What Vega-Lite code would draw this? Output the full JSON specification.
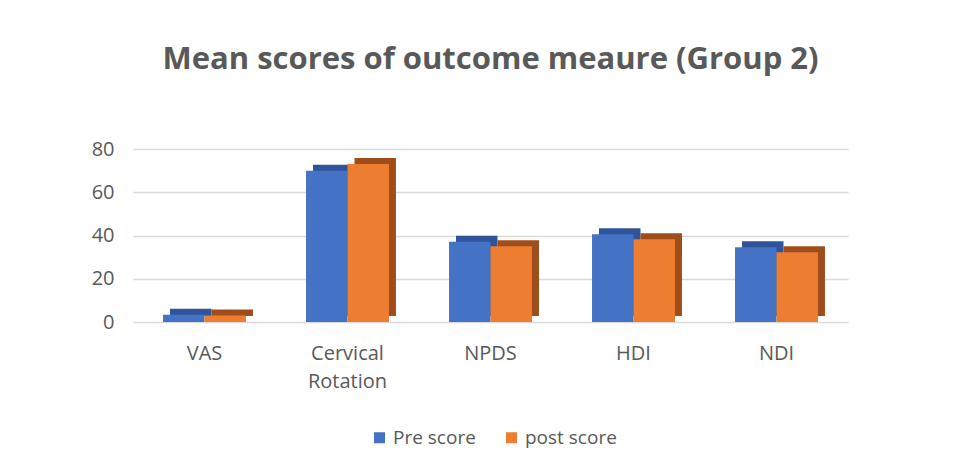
{
  "$schema": "https://vega.github.io/schema/vega-lite/v6.json",
  "width": 715,
  "height": 173,
  "autosize": "none",
  "padding": {"left": 133, "top": 149, "right": 112, "bottom": 148},
  "background": "white",
  "title": {
    "text": "Mean scores of outcome meaure (Group 2)",
    "font": "Open Sans",
    "fontSize": 31,
    "fontWeight": "bold",
    "color": "#595959",
    "anchor": "middle",
    "offset": 63
  },
  "data": {
    "values": [
      {"measure": "VAS", "series": "Pre score", "value": 3.4},
      {"measure": "VAS", "series": "post score", "value": 3.0},
      {"measure": "Cervical Rotation", "series": "Pre score", "value": 70.0},
      {"measure": "Cervical Rotation", "series": "post score", "value": 73.1},
      {"measure": "NPDS", "series": "Pre score", "value": 37.1},
      {"measure": "NPDS", "series": "post score", "value": 35.0},
      {"measure": "HDI", "series": "Pre score", "value": 40.6},
      {"measure": "HDI", "series": "post score", "value": 38.3},
      {"measure": "NDI", "series": "Pre score", "value": 34.6},
      {"measure": "NDI", "series": "post score", "value": 32.3}
    ]
  },
  "encoding": {
    "x": {
      "field": "measure",
      "type": "nominal",
      "sort": ["VAS", "Cervical Rotation", "NPDS", "HDI", "NDI"],
      "scale": {"paddingInner": 0.42, "paddingOuter": 0.21},
      "axis": {
        "title": null,
        "domain": false,
        "ticks": false,
        "labelAngle": 0,
        "labelPadding": 21,
        "labelFont": "Open Sans",
        "labelFontSize": 20,
        "labelColor": "#595959",
        "labelLineHeight": 28,
        "labelExpr": "datum.label == 'Cervical Rotation' ? ['Cervical', 'Rotation'] : datum.label"
      }
    },
    "y": {
      "field": "value",
      "type": "quantitative",
      "scale": {"domain": [0, 80]},
      "axis": {
        "title": null,
        "domain": false,
        "ticks": false,
        "values": [0, 20, 40, 60, 80],
        "labelOverlap": false,
        "labelPadding": 19,
        "labelFont": "Open Sans",
        "labelFontSize": 20,
        "labelColor": "#595959",
        "gridColor": "#d9d9d9",
        "gridWidth": 1.5
      }
    }
  },
  "layer": [
    {
      "mark": {"type": "bar", "yOffset": -6, "y2Offset": -6},
      "encoding": {
        "xOffset": {
          "field": "series",
          "type": "nominal",
          "sort": ["Pre score", "post score"],
          "scale": {"range": [7, 89.94]}
        },
        "color": {
          "field": "series",
          "type": "nominal",
          "scale": {"domain": ["Pre score", "post score"], "range": ["#30549a", "#a04d1c"]},
          "legend": null
        }
      }
    },
    {
      "mark": {"type": "bar"},
      "encoding": {
        "xOffset": {"field": "series", "type": "nominal", "sort": ["Pre score", "post score"]},
        "color": {
          "field": "series",
          "type": "nominal",
          "scale": {"domain": ["Pre score", "post score"], "range": ["#4472C4", "#ED7D31"]},
          "legend": {
            "title": null,
            "orient": "none",
            "legendX": 237,
            "legendY": 279,
            "direction": "horizontal",
            "symbolType": "square",
            "symbolSize": 121,
            "symbolStrokeWidth": 0,
            "labelFont": "Open Sans",
            "labelFontSize": 19,
            "labelColor": "#595959",
            "columnPadding": 26
          }
        }
      }
    }
  ],
  "resolve": {"scale": {"color": "independent", "xOffset": "independent"}},
  "config": {"view": {"stroke": null}}
}
